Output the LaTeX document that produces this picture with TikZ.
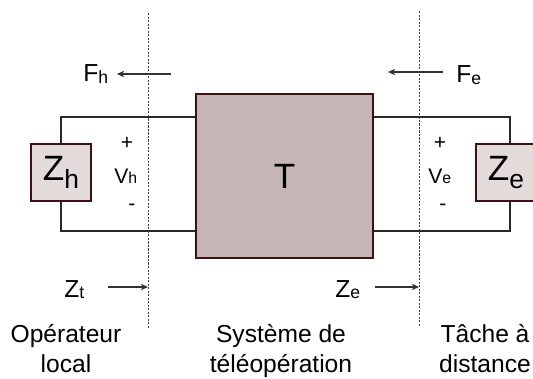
\documentclass[tikz,border=0pt]{standalone}
\usepackage{fontspec}
\setmainfont{Liberation Sans}
\usepackage{tikz}
\usetikzlibrary{arrows.meta, positioning, calc}
\definecolor{boxbrown}{RGB}{198,182,182}
\definecolor{boxlight}{RGB}{227,218,218}
\definecolor{boxedge}{RGB}{62,16,16}
\definecolor{wiregray}{RGB}{40,40,40}
% index letter, lowered and smaller
\newcommand{\ind}[3]{\raisebox{#1}{\fontsize{#2}{#2}\selectfont #3}}

\begin{document}
\begin{tikzpicture}[
    x=0.02cm, y=-0.02cm,
    blk/.style={rectangle, draw=boxedge, line width=0.8pt, fill=boxbrown, minimum width=3.54cm, minimum height=3.28cm, font=\fontsize{20}{24}\selectfont},
    imp/.style={rectangle, draw=boxedge, line width=0.8pt, fill=boxlight, minimum width=1.2cm, minimum height=1.14cm, inner sep=0pt, font=\fontsize{20}{24}\selectfont},
    wire/.style={wiregray, line width=0.6pt},
    cutline/.style={black!75, line width=0.5pt, dash pattern=on 1.2pt off 0.8pt},
    arr/.style={-{Stealth[length=4pt, width=3.6pt, inset=1pt]}, line width=0.6pt, black!80},
    lbl/.style={inner sep=0pt, font=\fontsize{14}{17}\selectfont},
    small/.style={inner sep=0pt, font=\fontsize{12}{14}\selectfont}
]
\useasboundingbox (0,0) rectangle (533,378);

% boxes
\node[blk] (T) at (284.5,176) {T};
\node[imp] (Zh) at (61,172.5) {Z\ind{-5pt}{15}{h}};
\node[imp] (Ze) at (506,172.5) {Z\ind{-5pt}{15}{e}};

% wires
\coordinate (wtop) at (0,117);
\coordinate (wbot) at (0,231);
\draw[wire] (wtop -| T.west) -| (Zh.north);
\draw[wire] (wbot -| T.west) -| (Zh.south);
\draw[wire] (wtop -| T.east) -| ($(Ze.north)+(4,0)$);
\draw[wire] (wbot -| T.east) -| ($(Ze.south)+(4,0)$);

% cut lines
\coordinate (cutLt) at (148,13);
\coordinate (cutLb) at (148,328);
\coordinate (cutRt) at (419,11);
\coordinate (cutRb) at (419,327);
\draw[cutline] (cutLt) -- (cutLb);
\draw[cutline] (cutRt) -- (cutRb);

% forces
\node[lbl, anchor=base west] (Fh) at (83,82) {F\ind{-1pt}{10}{h}};
\node[lbl, anchor=base west] (Fe) at (456,83) {F\ind{-1pt}{10}{e}};
\coordinate (fhs) at (171,74);
\coordinate (fhe) at (117,74);
\coordinate (fes) at (443,72);
\coordinate (fee) at (388,72);
\draw[arr] (fhs) -- (fhe);
\draw[arr] (fes) -- (fee);

% port variables
\node[small] (ph) at (127,143) {+};
\node[small, anchor=base west] (Vh) at (114,183) {V\ind{-0.5pt}{9}{h}};
\node[small] (mh) at (132,207) {-};
\node[small] (pe) at (440,143) {+};
\node[small, anchor=base west] (Ve) at (428,183) {V\ind{-0.5pt}{9}{e}};
\node[small] (me) at (443,207) {-};

% impedances seen
\node[lbl, anchor=base west] (Zt) at (64,297) {Z\ind{-1pt}{10}{t}};
\node[lbl, anchor=base west] (Zs) at (335,297) {Z\ind{-1pt}{10}{e}};
\coordinate (zts) at (108,287);
\coordinate (zss) at (375,287);
\draw[arr] (zts) -- (zts -| cutLt);
\draw[arr] (zss) -- (zss -| cutRt);

% captions
\node[lbl, align=center, anchor=base] (op) at (66,372) {Opérateur\\local};
\node[lbl, align=center, anchor=base] (sys) at (281,372) {Système de\\téléopération};
\node[lbl, align=center, anchor=base] (task) at (485,372) {Tâche à\\distance};
\end{tikzpicture}
\end{document}
